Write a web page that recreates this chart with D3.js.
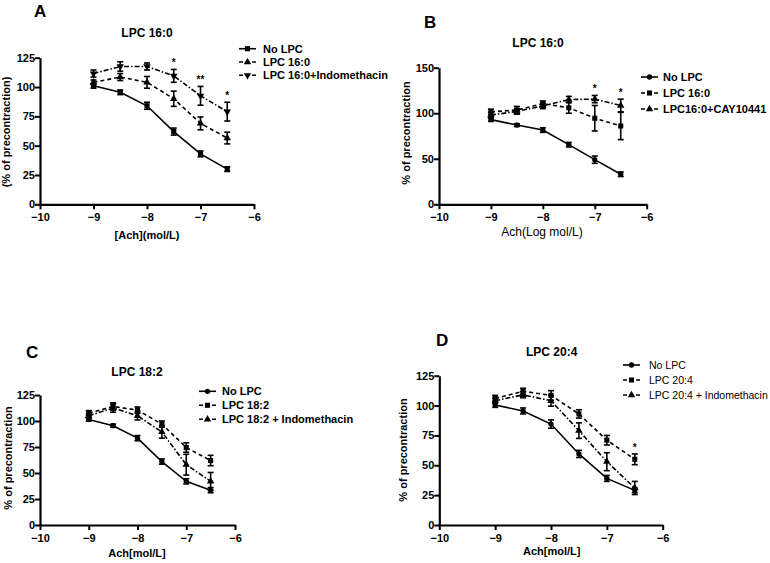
<!DOCTYPE html>
<html><head><meta charset="utf-8">
<script src="https://cdn.jsdelivr.net/npm/d3@7"></script>
<style>body{margin:0;background:#fff}svg{display:block}text{font-family:"Liberation Sans",Arial,sans-serif}</style>
</head><body><svg id="c" width="770" height="563"></svg>
<script>
// ---------- DATA ----------
const doses = [-9, -8.5, -8, -7.5, -7, -6.5];
const xTicks = [-10, -9, -8, -7, -6];

// Panel A: LPC 16:0
const A_names = ["No LPC", "LPC 16:0", "LPC 16:0+Indomethacin"];
const A_noLPC = [101, 95.5, 84, 62, 43, 30];
const A_noLPC_err = [2, 2, 3, 3, 2.5, 2];
const A_lpc = [104, 108.5, 104, 90, 69, 56.5];
const A_lpc_err = [2, 3, 5, 6.5, 5.5, 5];
const A_indo = [111.5, 117.5, 117.5, 109.5, 92.5, 79];
const A_indo_err = [3, 4, 3, 5.5, 8, 8];
const A_stars = [{x: -7.5, t: "*"}, {x: -7, t: "**"}, {x: -6.5, t: "*"}];
const A_yTicks = [0, 25, 50, 75, 100, 125];

// Panel B: LPC 16:0 + CAY10441
const B_names = ["No LPC", "LPC 16:0", "LPC16:0+CAY10441"];
const B_noLPC = [93, 87, 81.5, 65.5, 49, 33];
const B_noLPC_err = [2, 1.5, 2.5, 2.5, 4, 2.5];
const B_lpc = [101.5, 103.5, 110.5, 106, 94.5, 86];
const B_lpc_err = [3, 4, 3, 6, 14, 15];
const B_cay = [98, 102, 108, 115, 115.5, 108.5];
const B_cay_err = [3, 3, 3, 3.5, 4, 7];
const B_stars = [{x: -7, t: "*"}, {x: -6.5, t: "*"}];
const B_yTicks = [0, 50, 100, 150];

// Panel C: LPC 18:2
const C_names = ["No LPC", "LPC 18:2", "LPC 18:2 + Indomethacin"];
const C_noLPC = [101.5, 95.5, 83.5, 61, 42, 33.5];
const C_noLPC_err = [1.5, 1.5, 2.5, 2.5, 2.5, 2.5];
const C_lpc = [107.5, 114, 110.5, 97, 74.5, 62];
const C_lpc_err = [2.5, 3.5, 3, 3, 4.5, 5];
const C_indo = [105, 112.5, 105, 89.5, 58, 42];
const C_indo_err = [2, 4, 4, 6, 10, 8.5];
const C_stars = [];
const C_yTicks = [0, 25, 50, 75, 100, 125];

// Panel D: LPC 20:4
const D_names = ["No LPC", "LPC 20:4", "LPC 20:4 + Indomethacin"];
const D_noLPC = [100.5, 95.5, 84.5, 59.5, 39, 29];
const D_noLPC_err = [2, 2.5, 3.5, 3, 2.5, 2];
const D_lpc = [106, 112, 108.5, 93, 71, 55];
const D_lpc_err = [2.5, 2.5, 4, 3.5, 4, 4.5];
const D_indo = [104, 109, 104, 79, 53, 31];
const D_indo_err = [2, 2.5, 4.5, 6.5, 7.5, 5.5];
const D_stars = [{x: -6.5, t: "*"}];
const D_yTicks = [0, 25, 50, 75, 100, 125];

// ---------- DRAWING ----------
const svg = d3.select("#c");
const dashes = [null, "4,3", "5,2,1.5,2"];

function marker(g, type, x, y) {
  const s = {square: d3.symbolSquare, circle: d3.symbolCircle, triangle: d3.symbolTriangle, down: d3.symbolTriangle, star: d3.symbolTriangle}[type];
  const size = type === "circle" ? 22 : (type === "square" ? 26 : 24);
  return g.append("path").attr("d", d3.symbol().type(s).size(size)())
    .attr("fill", "#000")
    .attr("transform", `translate(${x},${y})` + (type === "down" ? " rotate(180)" : ""));
}

function panel(cfg) {
  const g = svg.append("g");
  const x = d3.scaleLinear().domain([-10, -6]).range([cfg.x0, cfg.x1]);
  const y = d3.scaleLinear().domain([0, cfg.ymax]).range([cfg.y0, cfg.y1]);

  const ax = g.append("g").attr("transform", `translate(0,${cfg.y0})`)
    .call(d3.axisBottom(x).tickValues(xTicks).tickSize(5).tickSizeOuter(0).tickFormat(d3.format("d")));
  const ay = g.append("g").attr("transform", `translate(${cfg.x0},0)`)
    .call(d3.axisLeft(y).tickValues(cfg.yTicks).tickSize(5).tickSizeOuter(0).tickFormat(d3.format("d")));
  [ax, ay].forEach(a => {
    a.select(".domain").attr("stroke", "#000").attr("stroke-width", 2.2);
    a.selectAll(".tick line").attr("stroke", "#000").attr("stroke-width", 2);
    a.selectAll(".tick text").attr("font-size", 11).attr("font-weight", "bold")
      .attr("font-family", "Liberation Sans, Arial, sans-serif").attr("fill", "#000");
  });
  ax.selectAll(".tick text").attr("dy", "0.8em");
  ay.selectAll(".tick text").attr("x", -5);

  cfg.series.forEach((s, i) => {
    const line = d3.line().x((d, j) => x(doses[j])).y(d => y(d));
    g.append("path").datum(s.v).attr("d", line).attr("fill", "none")
      .attr("stroke", "#000").attr("stroke-width", 1.6)
      .attr("stroke-dasharray", dashes[i]);
    s.v.forEach((v, j) => {
      const cx = x(doses[j]), e = s.e[j];
      const yt = y(v + e), yb = y(v - e);
      g.append("line").attr("x1", cx).attr("x2", cx).attr("y1", yt).attr("y2", yb).attr("stroke", "#000").attr("stroke-width", 1.6);
      [yt, yb].forEach(yy => g.append("line").attr("x1", cx - 3).attr("x2", cx + 3).attr("y1", yy).attr("y2", yy).attr("stroke", "#000").attr("stroke-width", 1.6));
      marker(g, s.m, cx, y(v));
    });
  });

  cfg.stars.forEach(st => {
    const i = doses.indexOf(st.x);
    const top = d3.max(cfg.series, s => s.v[i] + s.e[i]);
    g.append("text").attr("x", x(st.x)).attr("y", y(top) - 3).attr("text-anchor", "middle")
      .attr("font-size", 10).attr("font-weight", "bold").text(st.t);
  });

  g.append("text").attr("x", cfg.letterX).attr("y", cfg.letterY).attr("font-size", 17).attr("font-weight", "bold").text(cfg.letter);
  g.append("text").attr("x", cfg.titleX).attr("y", cfg.titleY).attr("text-anchor", "middle").attr("font-size", 12).attr("font-weight", "bold").text(cfg.title);
  g.append("text").attr("x", cfg.xlX).attr("y", cfg.xlY).attr("text-anchor", "middle").attr("font-size", cfg.xlSize).attr("font-weight", cfg.xlWeight).text(cfg.xlabel);
  g.append("text").attr("transform", `translate(${cfg.ylX},${cfg.ylY}) rotate(-90)`).attr("text-anchor", "middle")
    .attr("font-size", 11).attr("font-weight", "bold").text(cfg.ylabel);

  cfg.series.forEach((s, i) => {
    const ly = cfg.legY + i * cfg.legDy;
    g.append("line").attr("x1", cfg.legX).attr("x2", cfg.legX + 17).attr("y1", ly).attr("y2", ly)
      .attr("stroke", "#000").attr("stroke-width", 1.6).attr("stroke-dasharray", i === 0 ? null : "4,2.5");
    marker(g, s.m, cfg.legX + 8.5, ly);
    g.append("text").attr("x", cfg.legX + cfg.legGap).attr("y", ly + 4).attr("font-size", cfg.legSize)
      .attr("font-weight", cfg.legWeight).text(s.n);
  });
}

panel({letter: "A", letterX: 34, letterY: 17, title: "LPC 16:0", titleX: 147, titleY: 37,
  x0: 40, x1: 254, y0: 204.3, y1: 57.7, ymax: 125, yTicks: A_yTicks,
  xlabel: "[Ach](mol/L)", xlX: 147, xlY: 239, xlSize: 11, xlWeight: "bold",
  ylabel: "(% of precontraction)", ylX: 10, ylY: 132,
  legX: 239, legY: 48.7, legDy: 13.3, legWeight: "bold", legSize: 11, legGap: 24,
  stars: A_stars,
  series: [{n: A_names[0], v: A_noLPC, e: A_noLPC_err, m: "square"},
           {n: A_names[1], v: A_lpc, e: A_lpc_err, m: "star"},
           {n: A_names[2], v: A_indo, e: A_indo_err, m: "down"}]});

panel({letter: "B", letterX: 424, letterY: 28, title: "LPC 16:0", titleX: 538, titleY: 47,
  x0: 439, x1: 646.7, y0: 204.3, y1: 67.7, ymax: 150, yTicks: B_yTicks,
  xlabel: "Ach(Log mol/L)", xlX: 542, xlY: 236, xlSize: 12, xlWeight: "normal",
  ylabel: "% of precontraction", ylX: 410, ylY: 133,
  legX: 641, legY: 77, legDy: 16, legWeight: "bold", legSize: 11, legGap: 22,
  stars: B_stars,
  series: [{n: B_names[0], v: B_noLPC, e: B_noLPC_err, m: "circle"},
           {n: B_names[1], v: B_lpc, e: B_lpc_err, m: "square"},
           {n: B_names[2], v: B_cay, e: B_cay_err, m: "triangle"}]});

panel({letter: "C", letterX: 26, letterY: 358, title: "LPC 18:2", titleX: 137, titleY: 376,
  x0: 40, x1: 235, y0: 525, y1: 395, ymax: 125, yTicks: C_yTicks,
  xlabel: "Ach[mol/L]", xlX: 137, xlY: 557, xlSize: 11, xlWeight: "bold",
  ylabel: "% of precontraction", ylX: 12, ylY: 458,
  legX: 199, legY: 391.3, legDy: 14, legWeight: "bold", legSize: 11, legGap: 23,
  stars: C_stars,
  series: [{n: C_names[0], v: C_noLPC, e: C_noLPC_err, m: "circle"},
           {n: C_names[1], v: C_lpc, e: C_lpc_err, m: "square"},
           {n: C_names[2], v: C_indo, e: C_indo_err, m: "triangle"}]});

panel({letter: "D", letterX: 436, letterY: 346, title: "LPC 20:4", titleX: 551.7, titleY: 356,
  x0: 439.3, x1: 662.7, y0: 525, y1: 375.7, ymax: 125, yTicks: D_yTicks,
  xlabel: "Ach[mol/L]", xlX: 551.7, xlY: 555, xlSize: 11, xlWeight: "bold",
  ylabel: "% of precontraction", ylX: 407, ylY: 450,
  legX: 623, legY: 365, legDy: 15, legWeight: "normal", legSize: 10.5, legGap: 26,
  stars: D_stars,
  series: [{n: D_names[0], v: D_noLPC, e: D_noLPC_err, m: "circle"},
           {n: D_names[1], v: D_lpc, e: D_lpc_err, m: "square"},
           {n: D_names[2], v: D_indo, e: D_indo_err, m: "triangle"}]});
</script></body></html>
